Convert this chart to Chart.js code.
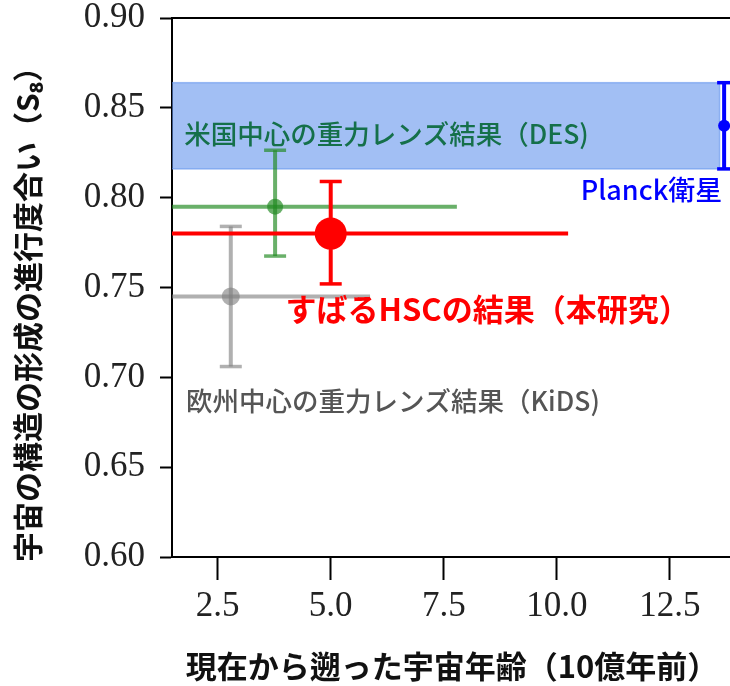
<!DOCTYPE html>
<html>
<head>
<meta charset="utf-8">
<script src="https://cdn.jsdelivr.net/npm/chart.js@4.4.0/dist/chart.umd.min.js"></script>
<style>
html,body{margin:0;background:#fff;overflow:hidden;}
#wrap{width:730px;height:686px;}
canvas{display:block;}
</style>
</head>
<body>
<div id="wrap"><canvas id="c"></canvas></div>
<script>
// measurements (lookback time in Gyr, S8)
const surveys = ["KiDS", "DES", "HSC", "Planck"];
const ages = [2.79, 3.77, 5.0, 13.7];
const ageErr = [3.08, 4.02, 5.25, 0];
const s8 = [0.745, 0.795, 0.780, 0.840];
const s8ErrLo = [0.039, 0.0275, 0.028, 0.024];
const s8ErrHi = [0.039, 0.0314, 0.029, 0.024];
const colors = ["rgba(128,128,128,0.62)", "rgba(34,139,34,0.68)", "#ff0000", "#0000ff"];
const pointSizes = [9, 8, 16, 6];
const capSizes = [11, 11, 11, 7];

// Planck band
const bandLo = 0.816;
const bandHi = 0.864;
const bandEnd = 13.6;

const xTicks = [2.5, 5.0, 7.5, 10.0, 12.5];
const yTicks = [0.60, 0.65, 0.70, 0.75, 0.80, 0.85, 0.90];

const notes = ["欧州中心の重力レンズ結果（KiDS)", "米国中心の重力レンズ結果（DES)", "すばるHSCの結果（本研究）", "Planck衛星"];
const noteX = [1.80, 1.76, 4.0, 10.53];
const noteY = [0.6868, 0.8355, 0.738, 0.8043];
const noteColors = ["#555555", "#15704a", "#ff0000", "#0000ff"];
const noteSizes = [26.5, 26.5, 31, 27];
const noteWeights = [500, 500, 700, 500];

const jp = '"Noto Sans CJK JP", "Noto Sans", sans-serif';

const errorBars = {
  id: 'errorBars',
  beforeDatasetsDraw(chart) {
    const {ctx, chartArea: a, scales: {x, y}} = chart;
    ctx.save();
    ctx.beginPath();
    ctx.rect(a.left, a.top, a.right - a.left, a.bottom - a.top);
    ctx.clip();

    // band
    const bx0 = a.left - 10, bx1 = x.getPixelForValue(bandEnd);
    const by0 = y.getPixelForValue(bandHi), by1 = y.getPixelForValue(bandLo);
    ctx.fillStyle = 'rgba(100,149,237,0.6)';
    ctx.fillRect(bx0, by0, bx1 - bx0, by1 - by0);
    ctx.strokeStyle = 'rgba(100,149,237,0.6)';
    ctx.lineWidth = 1.5;
    ctx.strokeRect(bx0, by0, bx1 - bx0, by1 - by0);

    ctx.lineCap = 'butt';
    ages.forEach((v, i) => {
      const px = x.getPixelForValue(v);
      const py = y.getPixelForValue(s8[i]);
      const top = y.getPixelForValue(s8[i] + s8ErrHi[i]);
      const bot = y.getPixelForValue(s8[i] - s8ErrLo[i]);
      ctx.strokeStyle = colors[i];
      ctx.lineWidth = 4;
      if (ageErr[i] > 0) {
        ctx.beginPath();
        ctx.moveTo(x.getPixelForValue(v - ageErr[i]), py);
        ctx.lineTo(x.getPixelForValue(v + ageErr[i]), py);
        ctx.stroke();
      }
      ctx.beginPath();
      ctx.moveTo(px, top);
      ctx.lineTo(px, bot);
      ctx.stroke();
      ctx.lineWidth = 3.5;
      [top, bot].forEach(cy => {
        ctx.beginPath();
        ctx.moveTo(px - capSizes[i], cy);
        ctx.lineTo(px + capSizes[i], cy);
        ctx.stroke();
      });
    });
    ctx.restore();
  },
  afterDraw(chart) {
    const {ctx, chartArea: a, scales: {x, y}} = chart;
    ctx.save();
    // top spine
    ctx.strokeStyle = '#000';
    ctx.lineWidth = 2;
    ctx.beginPath();
    ctx.moveTo(a.left - 1, a.top);
    ctx.lineTo(a.right, a.top);
    ctx.stroke();

    // notes
    ctx.textAlign = 'left';
    ctx.textBaseline = 'middle';
    notes.forEach((t, i) => {
      ctx.fillStyle = noteColors[i];
      ctx.font = noteWeights[i] + ' ' + noteSizes[i] + 'px ' + jp;
      ctx.fillText(t, x.getPixelForValue(noteX[i]), y.getPixelForValue(noteY[i]));
    });

    // axis titles
    ctx.fillStyle = '#111';
    ctx.font = '700 31px ' + jp;
    ctx.textAlign = 'center';
    ctx.fillText('現在から遡った宇宙年齢（10億年前）', 452, 666);
    ctx.translate(28, 307);
    ctx.rotate(-Math.PI / 2);
    ctx.font = '700 30px ' + jp;
    ctx.fillText('宇宙の構造の形成の進行度合い（S₈）', 0, 0);
    ctx.restore();
  }
};

new Chart(document.getElementById('c'), {
  type: 'scatter',
  data: {
    datasets: surveys.map((s, i) => ({
      label: s,
      data: [{x: ages[i], y: s8[i]}],
      pointRadius: pointSizes[i],
      pointHoverRadius: pointSizes[i],
      backgroundColor: colors[i],
      borderWidth: 0,
      clip: false
    }))
  },
  options: {
    responsive: true,
    maintainAspectRatio: false,
    animation: false,
    events: [],
    layout: {autoPadding: false, padding: {top: 18, right: 0, left: 0, bottom: 0}},
    plugins: {legend: {display: false}, tooltip: {enabled: false}},
    scales: {
      x: {
        type: 'linear',
        min: 1.49,
        max: 13.83,
        afterBuildTicks: s => { s.ticks = xTicks.map(v => ({value: v})); },
        afterFit: s => { s.height = 129; s.paddingLeft = 0; s.paddingRight = 0; },
        ticks: {
          callback: v => v.toFixed(1),
          font: {family: '"Liberation Serif", serif', size: 35},
          color: '#222',
          padding: 6,
          maxRotation: 0
        },
        grid: {drawOnChartArea: false, tickLength: 23, tickWidth: 2, tickColor: '#000'},
        border: {display: true, color: '#000', width: 2}
      },
      y: {
        min: 0.6,
        max: 0.9,
        afterBuildTicks: s => { s.ticks = yTicks.map(v => ({value: v})); },
        afterFit: s => { s.width = 172; s.paddingTop = 0; s.paddingBottom = 0; },
        ticks: {
          callback: v => v.toFixed(2),
          font: {family: '"Liberation Serif", serif', size: 35},
          color: '#222',
          padding: 15
        },
        grid: {drawOnChartArea: false, tickLength: 12, tickWidth: 2, tickColor: '#000'},
        border: {display: true, color: '#000', width: 2}
      }
    }
  },
  plugins: [errorBars]
});
</script>
</body>
</html>
